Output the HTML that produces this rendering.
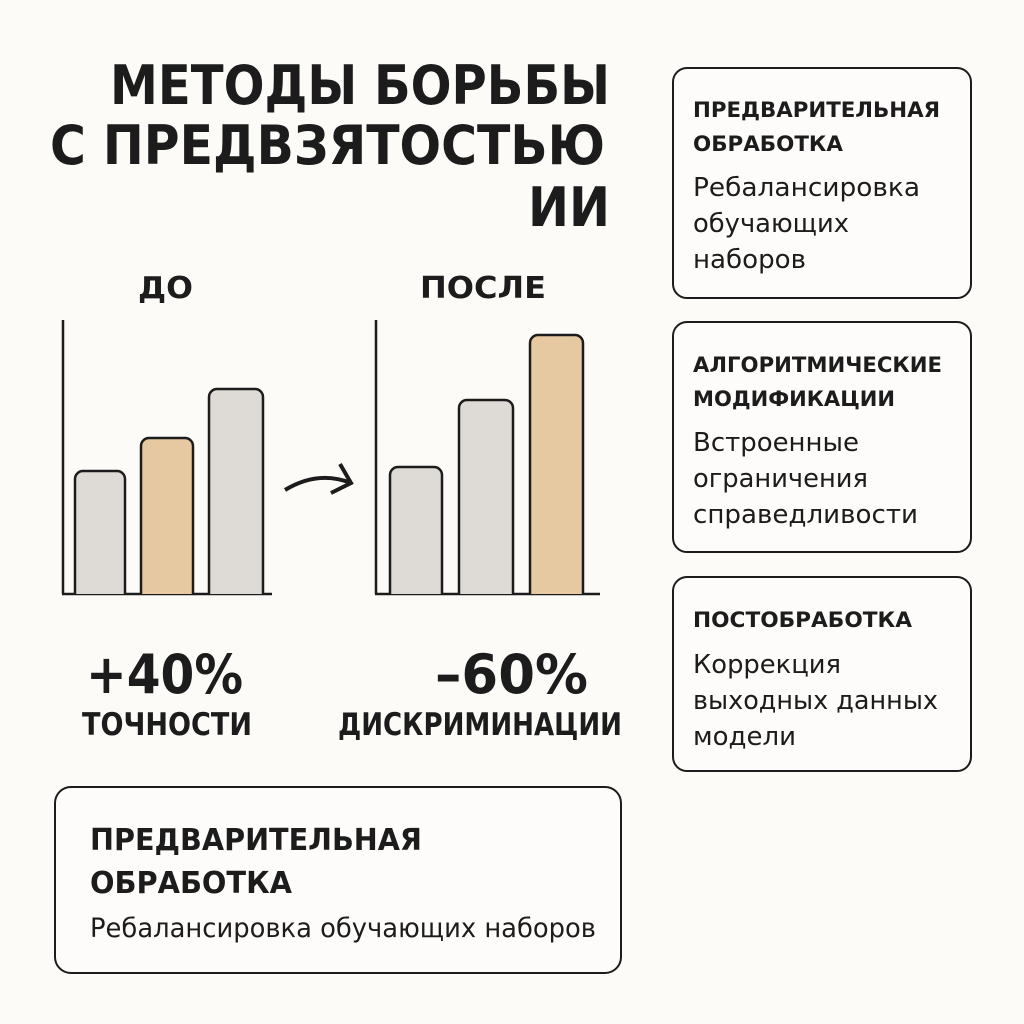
<!DOCTYPE html>
<html><head><meta charset="utf-8"><style>
html,body{margin:0;padding:0;background:#fcfbf8;}
svg{display:block;}
text{fill:#1c1c1c;font-family:"DejaVu Sans","Liberation Sans",sans-serif;}
.b{font-weight:bold;}
</style></head><body>
<svg width="1024" height="1024" viewBox="0 0 1024 1024">
<rect width="1024" height="1024" fill="#fcfbf8"/>
<text class="b" x="110" y="104" font-size="54" textLength="500" lengthAdjust="spacingAndGlyphs">МЕТОДЫ БОРЬБЫ</text>
<text class="b" x="50" y="164" font-size="54" textLength="555" lengthAdjust="spacingAndGlyphs">С ПРЕДВЗЯТОСТЬЮ</text>
<text class="b" x="528" y="226" font-size="54" textLength="82" lengthAdjust="spacingAndGlyphs">ИИ</text>
<text class="b" x="138" y="298" font-size="30" textLength="55" lengthAdjust="spacingAndGlyphs">ДО</text>
<text class="b" x="420" y="298" font-size="30" textLength="126" lengthAdjust="spacingAndGlyphs">ПОСЛЕ</text>
<g stroke="#1c1c1c" stroke-width="2.5" fill="none">
<line x1="63" y1="320" x2="63" y2="594"/><line x1="62" y1="594" x2="272" y2="594"/>
<line x1="376" y1="320" x2="376" y2="594"/><line x1="375" y1="594" x2="600" y2="594"/>
</g>
<g stroke="#1c1c1c" stroke-width="2.5">
<path d="M75,594 V479 a8,8 0 0 1 8,-8 H117 a8,8 0 0 1 8,8 V594" fill="#dedad5"/>
<path d="M141,594 V446 a8,8 0 0 1 8,-8 H185 a8,8 0 0 1 8,8 V594" fill="#e6c9a0"/>
<path d="M209,594 V397 a8,8 0 0 1 8,-8 H255 a8,8 0 0 1 8,8 V594" fill="#dedad5"/>
<path d="M390,594 V475 a8,8 0 0 1 8,-8 H434 a8,8 0 0 1 8,8 V594" fill="#dedad5"/>
<path d="M459,594 V408 a8,8 0 0 1 8,-8 H505 a8,8 0 0 1 8,8 V594" fill="#dedad5"/>
<path d="M530,594 V343 a8,8 0 0 1 8,-8 H575 a8,8 0 0 1 8,8 V594" fill="#e6c9a0"/>
</g>
<path d="M285,490 Q318,470 351,483" stroke="#1c1c1c" stroke-width="4" fill="none"/>
<path d="M340,464 L351,483 L331,493" stroke="#1c1c1c" stroke-width="4" fill="none"/>
<text class="b" x="86" y="693" font-size="54" textLength="157" lengthAdjust="spacingAndGlyphs">+40%</text>
<text class="b" x="82" y="735" font-size="31" textLength="170" lengthAdjust="spacingAndGlyphs">ТОЧНОСТИ</text>
<text class="b" x="435" y="693" font-size="54" textLength="153" lengthAdjust="spacingAndGlyphs">–60%</text>
<text class="b" x="338" y="735" font-size="31" textLength="284" lengthAdjust="spacingAndGlyphs">ДИСКРИМИНАЦИИ</text>
<g stroke="#1c1c1c" stroke-width="2" fill="#fdfcfa">
<rect x="55" y="787" width="566" height="186" rx="16"/>
<rect x="673" y="68" width="298" height="230" rx="14"/>
<rect x="673" y="322" width="298" height="230" rx="14"/>
<rect x="673" y="577" width="298" height="194" rx="14"/>
</g>
<text class="b" x="90" y="850" font-size="30" textLength="332" lengthAdjust="spacingAndGlyphs">ПРЕДВАРИТЕЛЬНАЯ</text>
<text class="b" x="90" y="893" font-size="30" textLength="202" lengthAdjust="spacingAndGlyphs">ОБРАБОТКА</text>
<text x="90" y="937" font-size="27" textLength="506" lengthAdjust="spacingAndGlyphs">Ребалансировка обучающих наборов</text>

<text class="b" x="693" y="117" font-size="21" textLength="247" lengthAdjust="spacingAndGlyphs">ПРЕДВАРИТЕЛЬНАЯ</text>
<text class="b" x="693" y="151" font-size="21" textLength="150" lengthAdjust="spacingAndGlyphs">ОБРАБОТКА</text>
<text x="693" y="196" font-size="26" textLength="227" lengthAdjust="spacingAndGlyphs">Ребалансировка</text>
<text x="693" y="232" font-size="26" textLength="156" lengthAdjust="spacingAndGlyphs">обучающих</text>
<text x="693" y="268" font-size="26" textLength="113" lengthAdjust="spacingAndGlyphs">наборов</text>

<text class="b" x="693" y="372" font-size="21" textLength="249" lengthAdjust="spacingAndGlyphs">АЛГОРИТМИЧЕСКИЕ</text>
<text class="b" x="693" y="406" font-size="21" textLength="202" lengthAdjust="spacingAndGlyphs">МОДИФИКАЦИИ</text>
<text x="693" y="451" font-size="26" textLength="166" lengthAdjust="spacingAndGlyphs">Встроенные</text>
<text x="693" y="487" font-size="26" textLength="175" lengthAdjust="spacingAndGlyphs">ограничения</text>
<text x="693" y="523" font-size="26" textLength="225" lengthAdjust="spacingAndGlyphs">справедливости</text>

<text class="b" x="693" y="627" font-size="21" textLength="219" lengthAdjust="spacingAndGlyphs">ПОСТОБРАБОТКА</text>
<text x="693" y="673" font-size="26" textLength="148" lengthAdjust="spacingAndGlyphs">Коррекция</text>
<text x="693" y="709" font-size="26" textLength="245" lengthAdjust="spacingAndGlyphs">выходных данных</text>
<text x="693" y="745" font-size="26" textLength="103" lengthAdjust="spacingAndGlyphs">модели</text>
</svg>
</body></html>
